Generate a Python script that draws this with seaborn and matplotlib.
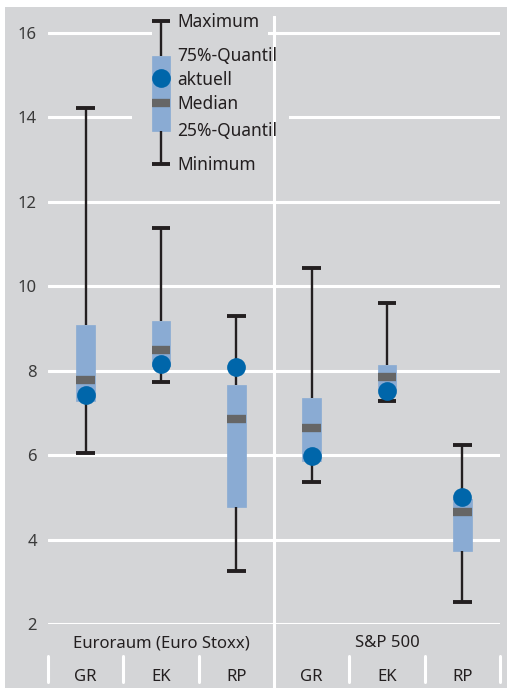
import matplotlib
matplotlib.use("Agg")
import matplotlib.pyplot as plt
import matplotlib.transforms as mtransforms
from matplotlib.patches import Rectangle
import pandas as pd
import seaborn as sns

# Kennzahlen je Index und Bewertungsmaß
slots = ["EU_GR", "EU_EK", "EU_RP", "US_GR", "US_EK", "US_RP"]
sub_labels = ["GR", "EK", "RP", "GR", "EK", "RP"]
group_labels = ["Euroraum (Euro Stoxx)", "S&P 500"]

minimum = [6.05, 7.72, 3.25, 5.36, 7.27, 2.53]
quantil25 = [7.27, 8.10, 4.76, 5.85, 7.55, 3.74]
median = [7.78, 8.50, 6.85, 6.65, 7.85, 4.65]
quantil75 = [9.08, 9.18, 7.67, 7.35, 8.14, 4.95]
maximum = [14.22, 11.37, 9.30, 10.43, 9.60, 6.23]
aktuell = [7.43, 8.15, 8.08, 5.97, 7.53, 5.01]

# Legende (als Beispielbox im oberen Bereich)
legend_slot = "EU_EK"
legend_stats = [12.90, 13.68, 14.34, 15.46, 16.28]
legend_aktuell = 14.93
legend_texts = ["Minimum", "25%-Quantil", "Median", "75%-Quantil", "Maximum", "aktuell"]
legend_text_y = [12.87, 13.68, 14.32, 15.46, 16.26, 14.89]

BG = "#d4d5d7"
BOX = "#8aabd3"
MED = "#666666"
DOT = "#0066aa"
BLACK = "#231f20"


def five_points(i):
    # 5 Werte -> Quartile fallen exakt auf die Stützstellen
    return [minimum[i], quantil25[i], median[i], quantil75[i], maximum[i]]


rows = []
for i, s in enumerate(slots):
    for v in five_points(i):
        rows.append({"slot": s, "wert": v})
df = pd.DataFrame(rows)
df_leg = pd.DataFrame({"slot": [legend_slot] * 5, "wert": legend_stats})

sns.set_style("white")
plt.rcParams["font.family"] = ["Noto Sans", "DejaVu Sans"]

fig = plt.figure(figsize=(5.08, 6.88), dpi=100)
fig.patch.set_facecolor("white")
fig.patches.append(Rectangle((5 / 508, 0), 502 / 508, 681 / 688, transform=fig.transFigure,
                             facecolor=BG, edgecolor="none", zorder=-10))
ax = fig.add_axes([48 / 508, 64 / 688, 452 / 508, 608 / 688])
ax.set_facecolor(BG)

box_kws = dict(
    order=slots, width=0.25, whis=(0, 100), fliersize=0, capwidths=0.25,
    boxprops=dict(facecolor=BOX, edgecolor=BOX, linewidth=0.5),
    medianprops=dict(color=MED, linewidth=6, solid_capstyle="butt"),
    whiskerprops=dict(color=BLACK, linewidth=1.7, solid_capstyle="butt"),
    capprops=dict(color=BLACK, linewidth=2.8, solid_capstyle="butt"),
)
sns.boxplot(data=df, x="slot", y="wert", ax=ax, **box_kws)
sns.boxplot(data=df_leg, x="slot", y="wert", ax=ax, **box_kws)

sns.stripplot(x=slots, y=aktuell, order=slots, jitter=False, size=13.5, color=DOT,
              linewidth=0, ax=ax, zorder=5)
sns.stripplot(x=[legend_slot], y=[legend_aktuell], order=slots, jitter=False, size=13.5,
              color=DOT, linewidth=0, ax=ax, zorder=5)

for txt, ty in zip(legend_texts, legend_text_y):
    ax.text(1.22, ty, txt, fontsize=12.5, color=BLACK, va="center", ha="left", zorder=6)

# Hintergrund hinter der Legende verdeckt Gitterlinien
ax.add_patch(Rectangle((0.62, 13.3), 2.08, 1.4, facecolor=BG, edgecolor="none", zorder=1))
ax.add_patch(Rectangle((0.887, 15.7), 1.533, 0.6, facecolor=BG, edgecolor="none", zorder=1))

ax.set_xlim(-0.5, 5.5)
ax.set_ylim(2, 16.4)
ax.set_yticks([2, 4, 6, 8, 10, 12, 14, 16])
ax.set_xticks([])
ax.set_xlabel("")
ax.set_ylabel("")
ax.grid(axis="y", color="white", linewidth=2.2)
ax.set_axisbelow(True)
ax.axvline(2.5, color="white", linewidth=2.2, zorder=1.5)
ax.tick_params(axis="y", length=0, pad=8, labelsize=12, labelcolor="#3a3a3a")
for sp in ax.spines.values():
    sp.set_visible(False)

# Kategorienbeschriftung unterhalb der Achse
trans = mtransforms.blended_transform_factory(ax.transData, fig.transFigure)
for gx, g in zip([1, 4], group_labels):
    ax.text(gx, 45 / 688, g, transform=trans, ha="center", va="center", fontsize=12, color=BLACK)
for k, lab in enumerate(sub_labels):
    ax.text(k, 11 / 688, lab, transform=trans, ha="center", va="center", fontsize=12, color=BLACK)
for sx in [-0.5, 0.5, 1.5, 3.5, 4.5, 5.5]:
    ax.plot([sx, sx], [6 / 688, 32 / 688], transform=trans, color="white", linewidth=2.2,
            clip_on=False)
ax.plot([2.5, 2.5], [0, 64 / 688], transform=trans, color="white", linewidth=2.2, clip_on=False)

fig.savefig("out.png", dpi=100, facecolor=fig.get_facecolor())
